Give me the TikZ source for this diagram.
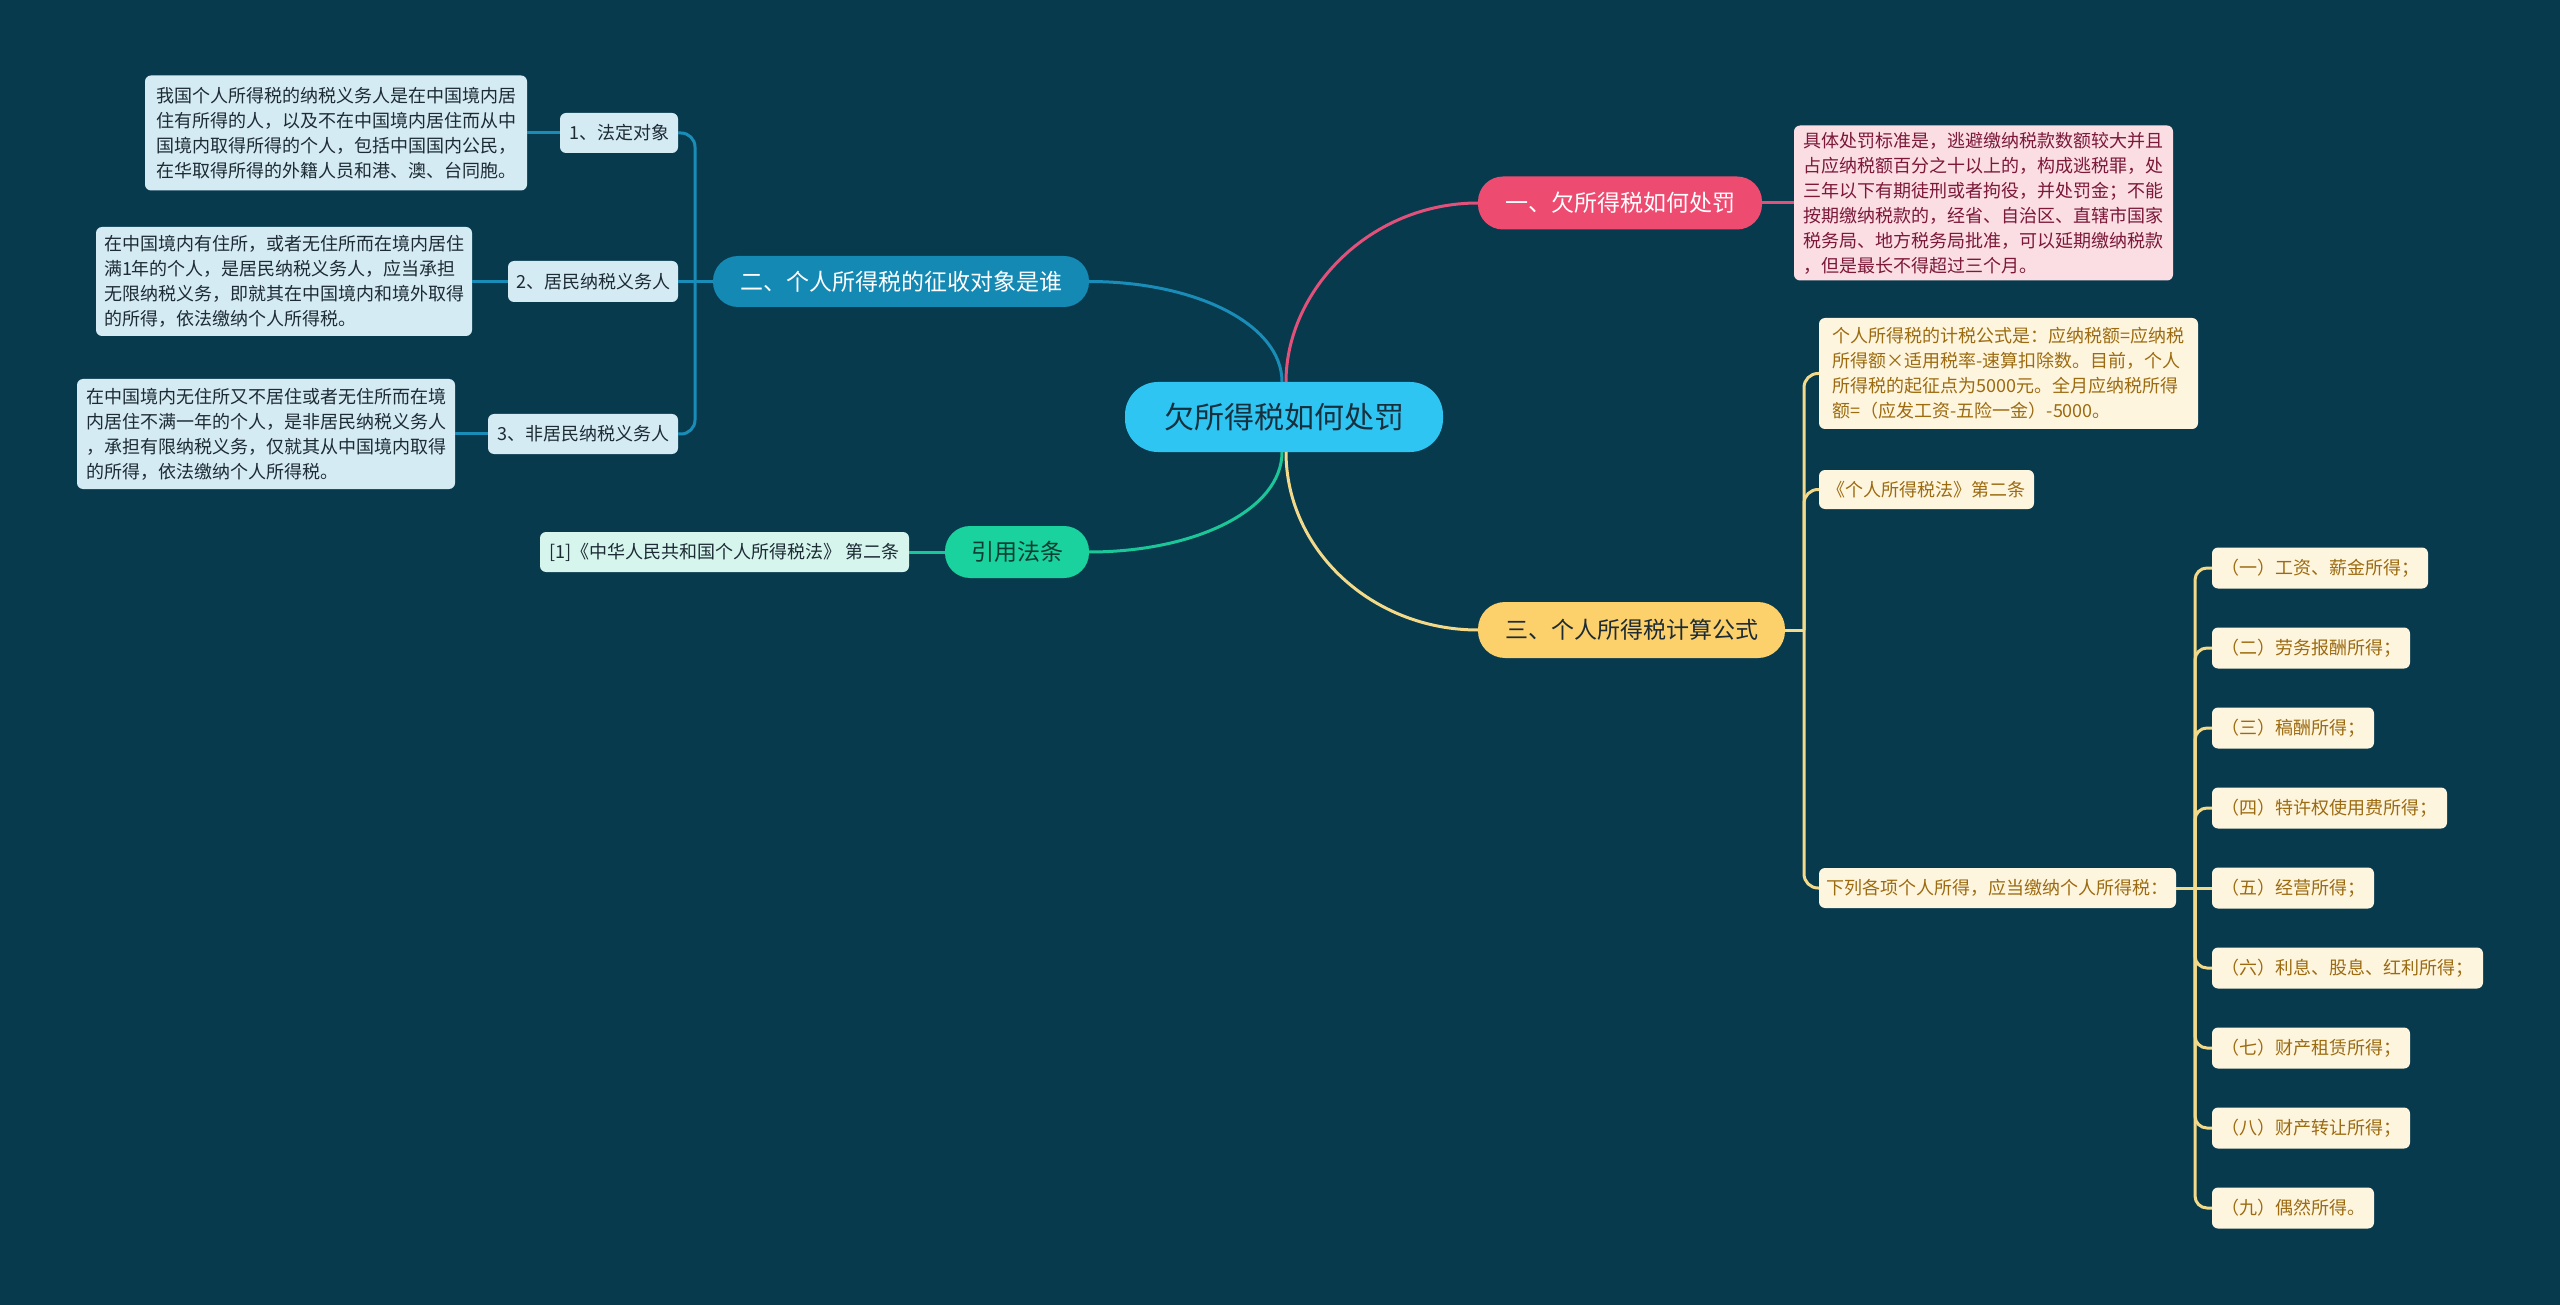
\documentclass[tikz,border=0pt]{standalone}
\usepackage{fontspec}
\setmainfont{Noto Sans CJK SC}
\definecolor{bg}{HTML}{083A4E}
\definecolor{cRoot}{HTML}{2FC5F3}
\definecolor{cRootT}{HTML}{17303D}
\definecolor{cRed}{HTML}{EE4B71}
\definecolor{cRedL}{HTML}{FBDDE4}
\definecolor{cRedT}{HTML}{7C1838}
\definecolor{cRedLine}{HTML}{E2517A}
\definecolor{cBlue}{HTML}{1489B4}
\definecolor{cBlueL}{HTML}{D5EBF3}
\definecolor{cBlueLine}{HTML}{1A8CB8}
\definecolor{cGreen}{HTML}{19D29E}
\definecolor{cGreenL}{HTML}{D6F6ED}
\definecolor{cGreenT}{HTML}{0D3D32}
\definecolor{cGreenLine}{HTML}{1BC799}
\definecolor{cYel}{HTML}{FCD06A}
\definecolor{cYelL}{HTML}{FEF5DF}
\definecolor{cYelT}{HTML}{9C6B10}
\definecolor{cYelLine}{HTML}{F3DA8A}
\definecolor{cDark}{HTML}{1D2B35}
\begin{document}
\begin{tikzpicture}[x=1pt,y=-1pt,
  every node/.style={inner sep=0pt,outer sep=0pt},
  rootn/.style={fill=cRoot,text=cRootT,font=\fontsize{30}{36}\selectfont,minimum width=318,minimum height=70,rounded corners=33},
  branch/.style={font=\fontsize{23}{28}\selectfont,rounded corners=25},
  leaf/.style={font=\fontsize{18}{25}\selectfont,rounded corners=6,align=left},
  bleaf/.style={leaf,fill=cBlueL,text=cDark},
  yleaf/.style={leaf,fill=cYelL,text=cYelT},
  rdl/.style={draw=cRedLine,line width=3pt},
  bll/.style={draw=cBlueLine,line width=3pt},
  grl/.style={draw=cGreenLine,line width=3pt},
  yll/.style={draw=cYelLine,line width=3pt},
]
\fill[bg] (0,0) rectangle (2560,1305);
\useasboundingbox (0,0) rectangle (2560,1305);

% root
\node[rootn] (root) at (1284,417) {欠所得税如何处罚};

% red branch
\node[branch,fill=cRed,text=white,minimum width=284,minimum height=53] (red) at (1620,203) {一、欠所得税如何处罚};
\node[leaf,fill=cRedL,text=cRedT,minimum width=379,minimum height=155,anchor=west] (reddet) at (1794,203)
 {具体处罚标准是，逃避缴纳税款数额较大并且\\占应纳税额百分之十以上的，构成逃税罪，处\\三年以下有期徒刑或者拘役，并处罚金；不能\\按期缴纳税款的，经省、自治区、直辖市国家\\税务局、地方税务局批准，可以延期缴纳税款\\，但是最长不得超过三个月。};

% blue branch
\node[branch,fill=cBlue,text=white,minimum width=376,minimum height=51] (blue) at (901,281.5) {二、个人所得税的征收对象是谁};
\node[bleaf,minimum width=118,minimum height=40,anchor=east] (b1) at (678,133) {1、法定对象};
\node[bleaf,minimum width=382,minimum height=115,anchor=east] (b1d) at (527,133)
 {我国个人所得税的纳税义务人是在中国境内居\\住有所得的人，以及不在中国境内居住而从中\\国境内取得所得的个人，包括中国国内公民，\\在华取得所得的外籍人员和港、澳、台同胞。};
\node[bleaf,minimum width=170,minimum height=41,anchor=east] (b2) at (678,281.5) {2、居民纳税义务人};
\node[bleaf,minimum width=376,minimum height=109,anchor=east] (b2d) at (472,281.5)
 {在中国境内有住所，或者无住所而在境内居住\\满1年的个人，是居民纳税义务人，应当承担\\无限纳税义务，即就其在中国境内和境外取得\\的所得，依法缴纳个人所得税。};
\node[bleaf,minimum width=190,minimum height=40,anchor=east] (b3) at (678,434) {3、非居民纳税义务人};
\node[bleaf,minimum width=378,minimum height=110,anchor=east] (b3d) at (455,434)
 {在中国境内无住所又不居住或者无住所而在境\\内居住不满一年的个人，是非居民纳税义务人\\，承担有限纳税义务，仅就其从中国境内取得\\的所得，依法缴纳个人所得税。};

% green branch
\node[branch,fill=cGreen,text=cGreenT,minimum width=144,minimum height=52] (green) at (1017,552) {引用法条};
\node[leaf,fill=cGreenL,text=cDark,minimum width=369,minimum height=40,anchor=east] (cite) at (909,552) {[1]《中华人民共和国个人所得税法》 第二条};

% yellow branch
\node[branch,fill=cYel,text=cDark,minimum width=307,minimum height=56,rounded corners=27] (yellow) at (1631.5,630) {三、个人所得税计算公式};
\node[yleaf,minimum width=379,minimum height=111,anchor=west] (y1) at (1819,373.5)
 {个人所得税的计税公式是：应纳税额=应纳税\\所得额×适用税率-速算扣除数。目前，个人\\所得税的起征点为5000元。全月应纳税所得\\额=（应发工资-五险一金）-5000。};
\node[yleaf,minimum width=215,minimum height=39,anchor=west] (y2) at (1819,489.5) {《个人所得税法》第二条};
\node[yleaf,minimum width=357,minimum height=40,anchor=west] (y3) at (1819,888) {下列各项个人所得，应当缴纳个人所得税：};

\node[yleaf,minimum width=216,minimum height=41,anchor=west] (l1) at (2212,568) {（一）工资、薪金所得；};
\node[yleaf,minimum width=198,minimum height=41,anchor=west] (l2) at (2212,648) {（二）劳务报酬所得；};
\node[yleaf,minimum width=162,minimum height=41,anchor=west] (l3) at (2212,728) {（三）稿酬所得；};
\node[yleaf,minimum width=235,minimum height=41,anchor=west] (l4) at (2212,808) {（四）特许权使用费所得；};
\node[yleaf,minimum width=162,minimum height=41,anchor=west] (l5) at (2212,888) {（五）经营所得；};
\node[yleaf,minimum width=271,minimum height=41,anchor=west] (l6) at (2212,968) {（六）利息、股息、红利所得；};
\node[yleaf,minimum width=198,minimum height=41,anchor=west] (l7) at (2212,1048) {（七）财产租赁所得；};
\node[yleaf,minimum width=198,minimum height=41,anchor=west] (l8) at (2212,1128) {（八）财产转让所得；};
\node[yleaf,minimum width=162,minimum height=41,anchor=west] (l9) at (2212,1208) {（九）偶然所得。};

% trunk coordinates
\coordinate (btr) at (695,281.5);
\coordinate (ytr) at (1804,630);
\coordinate (ltr) at (2195,888);

% main curves
\begin{scope}[on background layer/.try]
\draw[rdl] ([xshift=2]root.north) .. controls +(0,-92) and +(-108,0) .. (red.west);
\draw[bll] ([xshift=-2]root.north) .. controls +(0,-58) and +(106,0) .. (blue.east);
\draw[grl] ([xshift=-2]root.south) .. controls +(0,58) and +(106,0) .. (green.east);
\draw[yll] ([xshift=2]root.south) .. controls +(0,98) and +(-106,0) .. (yellow.west);
\end{scope}

% red
\draw[rdl] (red.east) -- (reddet.west);
% blue
\draw[bll] (blue.west) -- (btr);
\draw[bll,rounded corners=14] (btr) |- (b1.east);
\draw[bll] (btr) -- (b2.east);
\draw[bll,rounded corners=14] (btr) |- (b3.east);
\draw[bll] (b1.west) -- (b1d.east);
\draw[bll] (b2.west) -- (b2d.east);
\draw[bll] (b3.west) -- (b3d.east);
% green
\draw[grl] (green.west) -- (cite.east);
% yellow
\draw[yll] (yellow.east) -- (ytr);
\draw[yll,rounded corners=14] (ytr) |- (y1.west);
\draw[yll,rounded corners=14] (ytr) |- (y2.west);
\draw[yll,rounded corners=14] (ytr) |- (y3.west);
\draw[yll] (y3.east) -- (ltr);
\foreach \n in {l1,l2,l3,l4,l6,l7,l8,l9}{
  \draw[yll,rounded corners=12] (ltr) |- (\n.west);
}
\draw[yll] (ltr) -- (l5.west);
\end{tikzpicture}
\end{document}
